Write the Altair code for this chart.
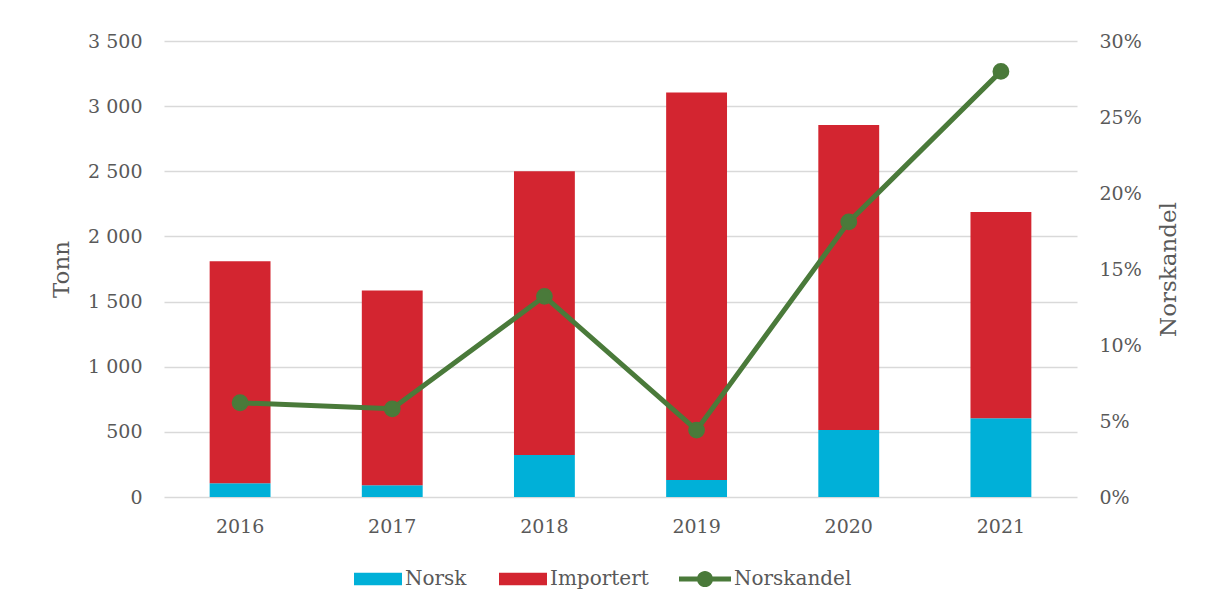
import altair as alt
import pandas as pd

years = ["2016", "2017", "2018", "2019", "2020", "2021"]
norsk = [105, 90, 322, 130, 514, 604]
importert = [1705, 1495, 2178, 2975, 2341, 1583]
norskandel = [0.062, 0.058, 0.132, 0.044, 0.181, 0.280]

series = ["Norsk", "Importert"]
bar_colors = ["#00b0d8", "#d32530"]
line_color = "#4a7a3a"
text_color = "#595959"
font = "DejaVu Serif"

rows = []
for i, y in enumerate(years):
    rows.append({"År": y, "Serie": "Norsk", "Tonn": norsk[i], "ord": 0})
    rows.append({"År": y, "Serie": "Importert", "Tonn": importert[i], "ord": 1})
bars_df = pd.DataFrame(rows)
line_df = pd.DataFrame({"År": years, "Andel": norskandel, "Linje": ["Norskandel"] * len(years)})

x_enc = alt.X("År:N", title=None, sort=years,
              scale=alt.Scale(paddingInner=0.6, paddingOuter=0.3),
              axis=alt.Axis(labelAngle=0, labelPadding=20, ticks=False, domain=False,
                            labelFontSize=19, labelColor=text_color, labelFont=font))

rect_path = "M-1,-0.26H1V0.26H-1Z"
line_path = ("M-1,-0.1H-0.25V0.1H-1Z M0.25,-0.1H1V0.1H0.25Z "
             "M0.31,0A0.31,0.31 0 1,1 -0.31,0A0.31,0.31 0 1,1 0.31,0Z")

bars = alt.Chart(bars_df).mark_bar().encode(
    x=x_enc,
    y=alt.Y("sum(Tonn):Q", title="Tonn", stack="zero",
            scale=alt.Scale(domain=[0, 3500], nice=False),
            axis=alt.Axis(values=[0, 500, 1000, 1500, 2000, 2500, 3000, 3500],
                          labelExpr="replace(format(datum.value, ','), ',', ' ')",
                          ticks=False, domain=False, labelPadding=22,
                          grid=True, gridColor="#d9d9d9", gridWidth=1.5,
                          labelFontSize=19, labelColor=text_color, labelFont=font,
                          titleFontSize=23, titleColor=text_color, titleFont=font,
                          titleFontWeight="normal", titlePadding=14)),
    color=alt.Color("Serie:N", scale=alt.Scale(domain=series, range=bar_colors),
                    legend=alt.Legend(title=None, orient="none", direction="horizontal",
                                      legendX=190, legendY=514, padding=0,
                                      symbolType=rect_path, symbolSize=2304,
                                      symbolStrokeWidth=0, labelOffset=3,
                                      columnPadding=32,
                                      labelFontSize=20, labelColor=text_color, labelFont=font)),
    order=alt.Order("ord:Q"),
)

line = alt.Chart(line_df).mark_line(strokeWidth=5, point=alt.OverlayMarkDef(filled=True, size=220, color=line_color)).encode(
    x=x_enc,
    y=alt.Y("Andel:Q", title="Norskandel",
            scale=alt.Scale(domain=[0, 0.30], nice=False),
            axis=alt.Axis(orient="right", format=".0%",
                          values=[0, 0.05, 0.10, 0.15, 0.20, 0.25, 0.30],
                          ticks=False, domain=False, grid=False, labelPadding=22,
                          labelFontSize=19, labelColor=text_color, labelFont=font,
                          titleFontSize=23, titleColor=text_color, titleFont=font,
                          titleFontWeight="normal", titlePadding=16,
                          titleAngle=270, titleBaseline="top")),
    stroke=alt.Stroke("Linje:N", scale=alt.Scale(domain=["Norskandel"], range=[line_color]),
                      legend=alt.Legend(title=None, orient="none", direction="horizontal",
                                        legendX=515, legendY=512, padding=0,
                                        symbolType=line_path, symbolSize=2704,
                                        symbolFillColor=line_color, symbolStrokeWidth=0,
                                        labelOffset=3,
                                        labelFontSize=20, labelColor=text_color, labelFont=font)),
)

chart = alt.layer(bars, line).resolve_scale(y="independent", color="independent").properties(
    width=913, height=456,
    padding={"left": 42, "top": 24, "right": 10, "bottom": 5},
).configure_view(stroke=None)

chart.save("out.html", embed_options={"renderer": "svg", "actions": False})
